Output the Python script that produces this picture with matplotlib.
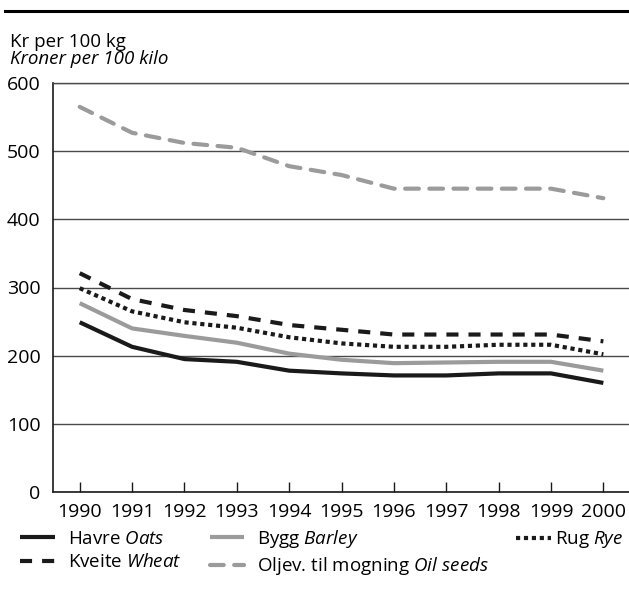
import numpy as np
import matplotlib
matplotlib.use("Agg")
import matplotlib.pyplot as plt
from matplotlib.lines import Line2D

plt.rcParams['font.family'] = ['Open Sans', 'DejaVu Sans']
plt.rcParams['mathtext.fontset'] = 'custom'
plt.rcParams['mathtext.rm'] = 'Open Sans'
plt.rcParams['mathtext.it'] = 'Open Sans:italic'

years = list(range(1990, 2001))
oats = [249, 213, 195, 191, 178, 174, 171, 171, 174, 174, 160]
barley = [277, 240, 229, 219, 203, 194, 189, 190, 191, 191, 178]
rye = [299, 265, 249, 241, 227, 218, 213, 213, 216, 216, 202]
wheat = [321, 283, 267, 258, 245, 238, 231, 231, 231, 231, 221]
oilseeds = [565, 527, 512, 505, 478, 465, 445, 445, 445, 445, 431]

black = '#1a1a1a'
gray = '#9b9b9b'
grid_c = '#4a4a4a'
W, H = 629, 590

fig = plt.figure(figsize=(6.29, 5.9), dpi=100)
# axes: left edge x=53, bottom y=492, top y=83 (pixels from top-left)
ax = fig.add_axes([53 / W, 1 - 492 / H, 1 - 53 / W, (492 - 83) / H])

ax.plot(years, oats, color=black, lw=3.0, solid_capstyle='butt', label='Havre $\\mathit{Oats}$')
ax.plot(years, barley, color=gray, lw=3.0, solid_capstyle='butt', label='Bygg $\\mathit{Barley}$')
ax.plot(years, rye, color=black, lw=3.0, linestyle=(0, (1, 0.9)), dash_capstyle='butt',
        label='Rug $\\mathit{Rye}$')
ax.plot(years, wheat, color=black, lw=3.0, linestyle=(0, (2.9, 2.4)), dash_capstyle='butt',
        label='Kveite $\\mathit{Wheat}$')
ax.plot(years, oilseeds, color=gray, lw=3.0, linestyle=(0, (3.3, 2.5)), dash_capstyle='round',
        label='Oljev. til mogning $\\mathit{Oil\\ seeds}$')

ax.set_xlim(1989.49, 2000.49)
ax.set_ylim(0, 600)
ax.set_xticks(years)
ax.set_yticks(range(0, 601, 100))
ax.yaxis.grid(True, color=grid_c, lw=1.0)
ax.set_axisbelow(True)
ax.tick_params(axis='x', direction='in', length=7, width=1, color=black, pad=8, labelsize=14)
ax.tick_params(axis='y', length=0, pad=9, labelsize=14)
ax.spines['right'].set_visible(False)
ax.spines['top'].set_color(grid_c)
ax.spines['top'].set_linewidth(1.0)
for s in ['left', 'bottom']:
    ax.spines[s].set_color(black)
    ax.spines[s].set_linewidth(1.2)

# top rule and unit text
fig.add_artist(Line2D([5 / W, 1.0], [1 - 11 / H, 1 - 11 / H], color='black', lw=2.2))
fig.text(10 / W, 1 - 42 / H, 'Kr per 100 kg', fontsize=13.5, va='center')
fig.text(10 / W, 1 - 59 / H, 'Kroner per 100 kilo', fontsize=13.5, style='italic', va='center')

h, l = ax.get_legend_handles_labels()
leg_kw = dict(frameon=False, fontsize=13.5, handlelength=1.85, borderaxespad=0,
              borderpad=0, labelspacing=0.3, loc='center left')
order = [0, 3, 1, 4]
leg = fig.legend([h[i] for i in order], [l[i] for i in order], ncol=2,
                 bbox_to_anchor=(20 / W, 1 - 552.5 / H), handletextpad=0.7,
                 columnspacing=1.5, **leg_kw)
leg_rye = fig.legend([h[2]], [l[2]], bbox_to_anchor=(516 / W, 1 - 540 / H),
                     handletextpad=0.25, **leg_kw)

fig.savefig('out.png', dpi=100)
